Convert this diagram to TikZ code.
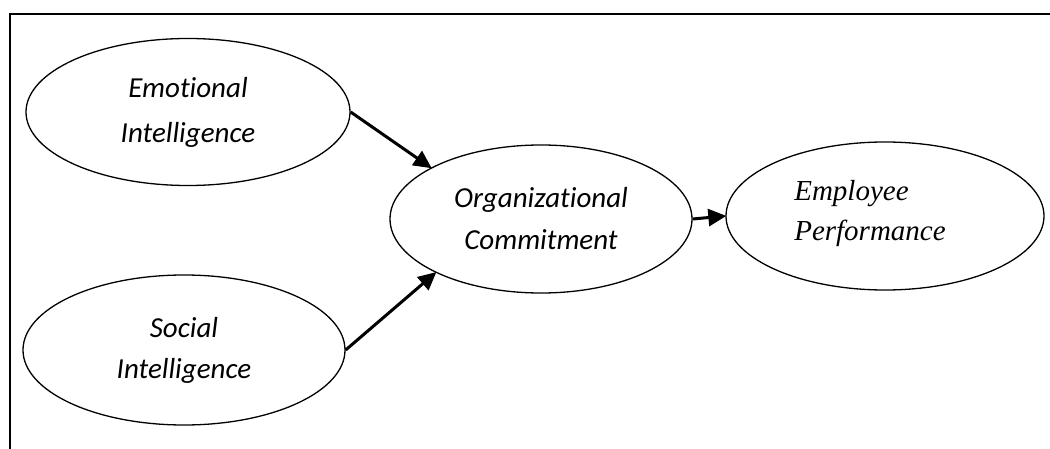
\documentclass[tikz,border=0pt]{standalone}
\usepackage{fontspec}
\newfontfamily\calfont[RawFeature=-liga]{Carlito}
\newfontfamily\timfont{Liberation Serif}
\usetikzlibrary{shapes.geometric,arrows.meta}
\begin{document}
\begin{tikzpicture}[x=1pt,y=-1pt,
  oval/.style={draw, ellipse, line width=1.3pt, inner sep=0pt, align=center},
  link/.style={line width=3pt, -{Triangle[length=18pt,width=17pt]}, shorten >=-1pt},
  frameline/.style={line width=2.6pt}]
\useasboundingbox (0,0) rectangle (1050,449);
\coordinate (ftl) at (10,14);
\coordinate (ftr) at (1052,14);
\coordinate (fbl) at (10,451);
\draw[frameline] (ftr) -- (ftl) -- (fbl);
\node[oval, minimum width=324pt, minimum height=147pt, font=\calfont\itshape\fontsize{29}{45}\selectfont] (emo) at (188,112) {Emotional\\Intelligence};
\node[oval, minimum width=322pt, minimum height=150pt, font=\calfont\itshape\fontsize{29}{41}\selectfont] (soc) at (184,350) {Social\\Intelligence};
\node[oval, minimum width=302pt, minimum height=148pt, font=\calfont\itshape\fontsize{29}{42}\selectfont] (org) at (541,219) {Organizational\\Commitment};
\node[oval, minimum width=318pt, minimum height=148pt] (emp) at (885,216) {};
\node[font=\timfont\itshape\fontsize{29}{40}\selectfont, align=left, anchor=center] (emptext) at (870,214) {Employee\\Performance};
\draw[link] (emo.east) -- (org.155);
\draw[link] (soc.east) -- (org.207);
\draw[link] (org.east) -- (emp.west);
\end{tikzpicture}
\end{document}
